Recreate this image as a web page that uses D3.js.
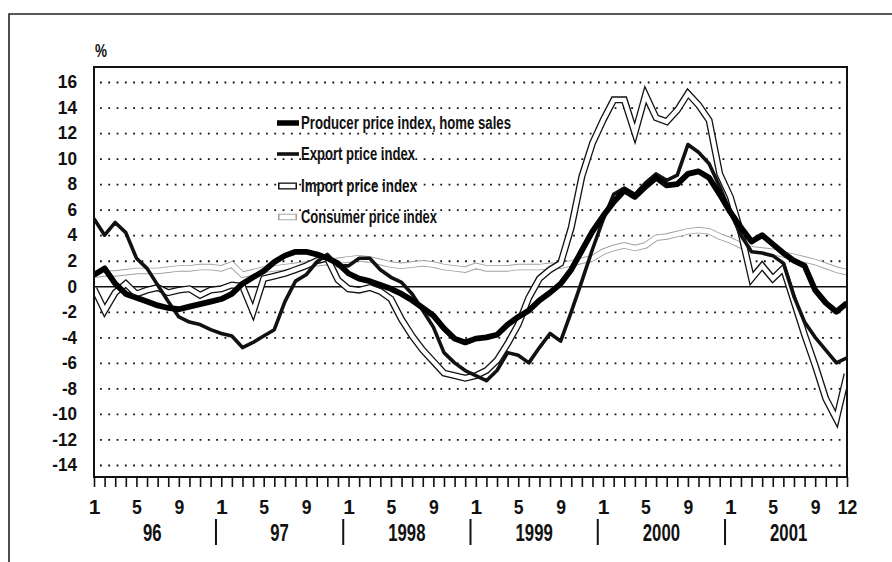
<!DOCTYPE html>
<html><head><meta charset="utf-8">
<script src="https://cdn.jsdelivr.net/npm/d3@7"></script>
<style>
html,body{margin:0;padding:0;background:#fff;}
svg{display:block;}
text{font-family:"Liberation Sans",Arial,sans-serif;font-weight:bold;fill:#111;}
</style></head><body>
<svg id="chart" width="892" height="562"></svg>
<script>
// ---- data ----
const years = ["96","97","1998","1999","2000","2001"];
const monthTicks = [0,4,8,12,16,20,24,28,32,36,40,44,48,52,56,60,64,68,71];
const monthTickLabels = ["1","5","9","1","5","9","1","5","9","1","5","9","1","5","9","1","5","9","12"];
const yTicks = [-14,-12,-10,-8,-6,-4,-2,0,2,4,6,8,10,12,14,16];
const seriesNames = ["Producer price index, home sales","Export price index","Import price index","Consumer price index"];

const ppi = [
 0.9, 1.4, 0.2,-0.6,-0.9,-1.2,-1.5,-1.7,-1.8,-1.6,-1.4,-1.2,
-1.0,-0.6, 0.2, 0.7, 1.2, 1.9, 2.4, 2.7, 2.7, 2.5, 2.2, 1.8,
 1.0, 0.6, 0.4, 0.1,-0.2,-0.6,-1.1,-1.7,-2.3,-3.3,-4.1,-4.4,
-4.1,-4.0,-3.8,-3.0,-2.4,-1.9,-1.1,-0.5, 0.2, 1.3, 2.8, 4.3,
 5.5, 6.6, 7.5, 7.0, 7.8, 8.5, 7.9, 8.0, 8.8, 9.0, 8.5, 7.2,
 5.8, 4.6, 3.5, 4.0, 3.3, 2.6, 2.0, 1.6,-0.3,-1.3,-2.0,-1.3];

const exportIdx = [
 5.3, 4.0, 5.0, 4.2, 2.2, 1.4, 0.1,-1.2,-2.4,-2.8,-3.0,-3.4,
-3.7,-3.9,-4.8,-4.4,-3.9,-3.4,-1.2, 0.4, 0.9, 1.9, 2.5, 1.6,
 1.6, 2.2, 2.2, 1.3, 0.7, 0.3,-0.6,-1.9,-3.2,-5.2,-6.0,-6.6,
-7.0,-7.4,-6.6,-5.2,-5.4,-6.0,-4.8,-3.7,-4.3,-2.0, 0.4, 2.9,
 5.2, 7.2, 7.7, 7.2, 8.1, 8.8, 8.3, 8.7,11.1,10.5, 9.6, 7.8,
 5.8, 4.0, 2.7, 2.6, 2.4, 1.8,-0.8,-2.8,-4.0,-5.0,-6.0,-5.6];

const importIdx = [
-0.2,-1.9,-0.5, 0.2,-0.6,-0.3,-0.1,-0.5,-0.3,-0.2,-0.7,-0.3,
-0.2, 0.1, 0.0,-2.0, 0.6, 0.8, 1.0, 1.3, 1.6, 2.0, 2.2, 0.5,
-0.2,-0.3,-0.1,-0.4,-1.0,-2.6,-3.9,-5.0,-5.9,-6.8,-7.0,-7.2,
-7.0,-6.6,-5.8,-4.5,-3.0,-0.9, 0.6, 1.3, 1.8, 4.6, 8.6,11.2,
13.0,14.6,14.6,12.0,15.0,13.2,12.9,13.8,15.1,14.2,13.0, 8.8,
 7.0, 4.2, 0.6, 1.6, 0.6, 1.4,-1.2,-3.8,-6.2,-8.8,-10.4,-6.9];

const cpi = [
 0.9, 1.0, 1.0, 1.1, 1.2, 1.2, 1.2, 1.3, 1.4, 1.4, 1.5, 1.5,
 1.4, 1.7, 0.9, 1.1, 1.3, 1.4, 1.5, 1.6, 1.7, 1.8, 1.9, 2.0,
 2.1, 2.2, 2.1, 1.9, 1.7, 1.6, 1.7, 1.8, 1.7, 1.5, 1.4, 1.3,
 1.6, 1.4, 1.4, 1.4, 1.5, 1.5, 1.5, 1.6, 1.6, 1.8, 2.0, 2.2,
 2.7, 3.0, 3.2, 3.0, 3.2, 3.8, 3.9, 4.1, 4.3, 4.4, 4.3, 3.9,
 3.6, 3.2, 2.9, 2.8, 2.7, 2.5, 2.3, 2.1, 1.9, 1.6, 1.3, 1.1];

// ---- layout ----
const svg = d3.select("#chart");
const L = 94, R = 847, T = 67, B = 477;
const x = d3.scaleLinear().domain([0, ppi.length - 1]).range([L, R]);
const y = d3.scaleLinear().domain([-14, 16]).range([465, 82]);

function squeeze(sel, w) {
  sel.attr("textLength", w).attr("lengthAdjust", "spacingAndGlyphs");
}

svg.append("rect").attr("width",892).attr("height",562).attr("fill","#fff");

// scan frame (top and left)
svg.append("path").attr("d","M9,562V14H892").attr("fill","none").attr("stroke","#222").attr("stroke-width",1.6);

// gridlines + y labels
const yAxis = svg.append("g").attr("transform",`translate(${L},0)`)
  .call(d3.axisLeft(y).tickValues(yTicks).tickSize(-(R-L)).tickPadding(17).tickFormat(d => String(d)));
yAxis.select(".domain").remove();
yAxis.selectAll(".tick line")
  .attr("stroke","#111")
  .attr("stroke-width", d => d === 0 ? 1.6 : 1.8)
  .attr("stroke-dasharray", d => d === 0 ? null : "1.8,6.5")
  .attr("x1", d => d === 0 ? 0 : 6);
yAxis.selectAll(".tick text").attr("font-size",18).attr("fill","#111")
  .style("font-family",'"Liberation Sans",Arial,sans-serif').style("font-weight","bold")
  .each(function(d){ const s = String(d); d3.select(this).call(squeeze, s.replace("-","").length*9.6 + (d<0?5.5:0)); });

svg.append("text").attr("x",95).attr("y",57).attr("font-size",18).call(squeeze,12).text("%");

// clip
svg.append("clipPath").attr("id","plotclip").append("rect")
  .attr("x",L).attr("y",T).attr("width",R-L).attr("height",B-T);

const line = d3.line().x((d,i) => x(i)).y(d => y(d));
const g = svg.append("g").attr("clip-path","url(#plotclip)");

function hollow(data, edge, outerW, innerW) {
  g.append("path").datum(data).attr("d",line).attr("fill","none")
    .attr("stroke",edge).attr("stroke-width",outerW).attr("stroke-linejoin","miter");
  g.append("path").datum(data).attr("d",line).attr("fill","none")
    .attr("stroke","#fff").attr("stroke-width",innerW).attr("stroke-linejoin","miter");
}
hollow(cpi, "#a0a0a0", 6.5, 4.7);
hollow(importIdx, "#111", 7, 4.4);
g.append("path").datum(exportIdx).attr("d",line).attr("fill","none")
  .attr("stroke","#111").attr("stroke-width",3.6).attr("stroke-linejoin","round");
g.append("path").datum(ppi).attr("d",line).attr("fill","none")
  .attr("stroke","#000").attr("stroke-width",5.8).attr("stroke-linejoin","round");

// plot frame
svg.append("rect").attr("x",L).attr("y",T).attr("width",R-L).attr("height",B-T)
  .attr("fill","none").attr("stroke","#111").attr("stroke-width",2);

// month ticks
const xTicksG = svg.append("g").attr("transform",`translate(0,${B})`)
  .call(d3.axisBottom(x).tickValues(d3.range(ppi.length)).tickSize(10).tickFormat(""));
xTicksG.select(".domain").remove();
xTicksG.selectAll(".tick line").attr("stroke","#111").attr("stroke-width",1.6);

// month labels
const xLab = svg.append("g").attr("transform",`translate(0,${B})`)
  .call(d3.axisBottom(x).tickValues(monthTicks).tickSize(0).tickPadding(22)
    .tickFormat((d,i) => monthTickLabels[i]));
xLab.select(".domain").remove();
xLab.selectAll(".tick text").attr("font-size",21).attr("fill","#111")
  .style("font-family",'"Liberation Sans",Arial,sans-serif').style("font-weight","bold")
  .each(function(d,i){ const s = monthTickLabels[i]; if (s !== "1") d3.select(this).call(squeeze, s.length*9.8); });

// year labels
svg.append("g").selectAll("text").data(years).join("text")
  .attr("x",(d,i) => x(i*12 + 5.5)).attr("y",541)
  .attr("text-anchor","middle").attr("font-size",23)
  .each(function(d){ d3.select(this).call(squeeze, d.length*9.3); })
  .text(d => d);
// year separators
svg.append("g").selectAll("line").data(d3.range(1, years.length)).join("line")
  .attr("x1", d => x(d*12 - 0.5)).attr("x2", d => x(d*12 - 0.5))
  .attr("y1",519).attr("y2",545).attr("stroke","#111").attr("stroke-width",2);

// legend
const legY = [123,154,186,217];
const legW = [210,114,116,136];
const lg = svg.append("g");
lg.append("line").attr("x1",277).attr("x2",299).attr("y1",legY[0]).attr("y2",legY[0])
  .attr("stroke","#000").attr("stroke-width",5.5);
lg.append("line").attr("x1",277).attr("x2",299).attr("y1",legY[1]).attr("y2",legY[1])
  .attr("stroke","#111").attr("stroke-width",3.6);
lg.append("line").attr("x1",278).attr("x2",297).attr("y1",legY[2]).attr("y2",legY[2])
  .attr("stroke","#111").attr("stroke-width",7);
lg.append("line").attr("x1",279.5).attr("x2",295.5).attr("y1",legY[2]).attr("y2",legY[2])
  .attr("stroke","#fff").attr("stroke-width",4.4);
lg.append("line").attr("x1",278).attr("x2",297).attr("y1",legY[3]).attr("y2",legY[3])
  .attr("stroke","#a0a0a0").attr("stroke-width",6.5);
lg.append("line").attr("x1",279.5).attr("x2",295.5).attr("y1",legY[3]).attr("y2",legY[3])
  .attr("stroke","#fff").attr("stroke-width",4.7);
lg.selectAll("text").data(seriesNames).join("text")
  .attr("x",301).attr("y",(d,i) => legY[i]).attr("dy","0.36em")
  .attr("font-size",18)
  .each(function(d,i){ d3.select(this).call(squeeze, legW[i]); })
  .text(d => d);
</script>
</body></html>
